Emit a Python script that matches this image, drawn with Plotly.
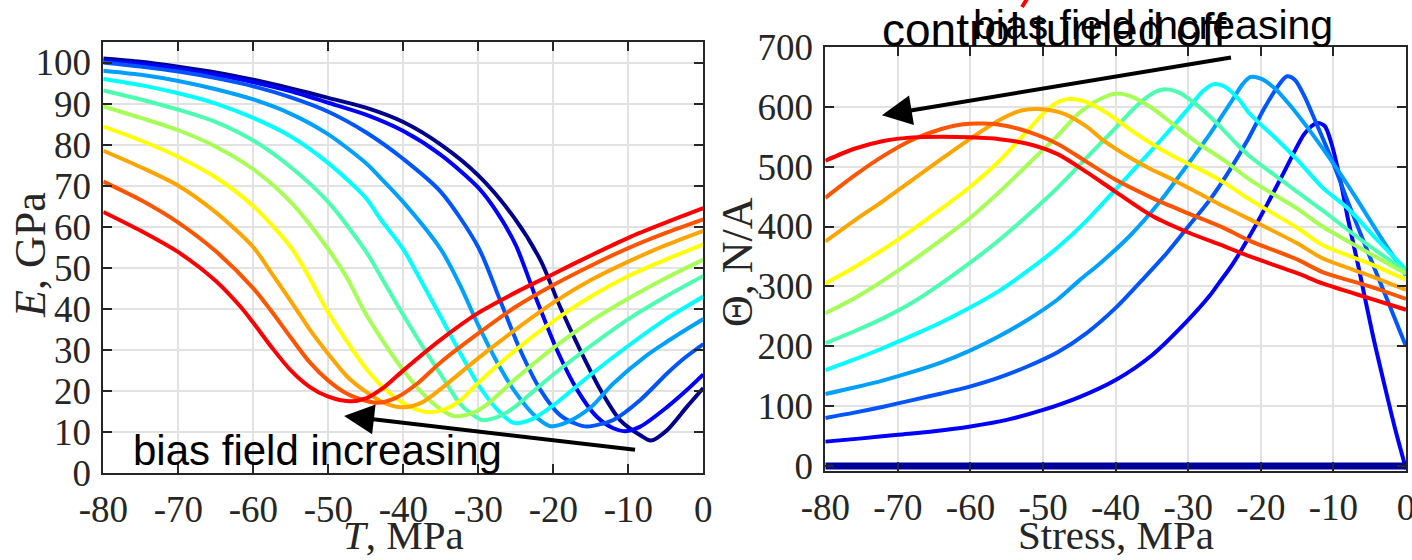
import plotly.graph_objects as go

# ---------------- Left panel: E (GPa) vs T (MPa) ----------------
T_red = [-80, -75, -70, -65, -61.7, -60, -57.5, -55, -52.5, -50, -47.2, -45, -42.5, -40, -35, -30, -25, -20, -15, -10, -5, 0]
E_red = [63.6, 59, 53.8, 46.8, 40.5, 36.6, 30.5, 25, 21, 18.6, 17.5, 18.2, 21, 25, 32.5, 39, 44, 48.5, 53, 57.3, 61, 64.5]

T_or = [-80, -75, -70, -65, -60, -57.7, -55, -52.5, -50, -47.5, -45, -43.5, -41, -38, -35, -30, -25, -20, -15, -10, -5, 0]
E_or = [71, 66.5, 61, 54, 45, 39.7, 33, 27, 22.5, 19.3, 17.6, 17.1, 18.3, 22, 27, 34, 40.5, 45.8, 50.5, 54.8, 58.5, 61.8]

T_o = [-80, -75, -70, -65, -60, -57.5, -54.2, -52.5, -50, -47.5, -45, -42.5, -40, -37.5, -35, -30, -25, -20, -15, -10, -5, 0]
E_o = [78.5, 74.5, 70, 63.5, 55, 48.5, 39.7, 35, 29, 23.5, 19.8, 17, 16, 17.2, 20.5, 28, 35, 41.5, 47, 51.5, 55.5, 59]

T_y = [-80, -75, -70, -65, -60, -55, -52.5, -50.2, -47.5, -45, -42.5, -40, -38, -36.5, -34.5, -32.5, -30, -25, -20, -15, -10, -5, 0]
E_y = [84.4, 81, 77, 72, 65, 55, 47.5, 39.7, 32, 25.5, 20.5, 17, 15.3, 14.8, 15.5, 17.5, 22, 30, 37, 43, 48, 52, 55.7]

T_yg = [-80, -75, -70, -65, -60, -55, -50, -47.5, -45.3, -42.5, -40, -37.5, -35, -33.3, -31, -29, -25, -20, -15, -10, -5, 0]
E_yg = [89.3, 86.5, 83.5, 79.5, 74, 66, 54.5, 47.5, 39.7, 31.5, 25, 19.5, 15.5, 13.9, 14.5, 16.5, 23, 30.5, 37, 42.5, 47.5, 52]

T_gc = [-80, -75, -70, -65, -60, -55, -50, -45, -43.1, -40.4, -37.5, -35, -32.5, -31, -29.5, -28, -26, -25, -20, -15, -10, -5, 0]
E_gc = [93.2, 91, 88.5, 85.5, 81, 74.5, 66, 54, 48.2, 39.7, 31, 24, 17, 14.5, 12.9, 13.3, 15, 16.3, 24, 31, 37.5, 43, 48]

T_c = [-80, -75, -70, -65, -60, -55, -50, -45, -43.1, -40, -37.7, -35, -32.5, -30, -27.5, -25.3, -23, -20, -15, -10, -5, 0]
E_c = [96, 94.5, 92.5, 90, 86.5, 82, 75.5, 67, 62, 54.5, 47, 38, 29.5, 21.5, 15.5, 12.2, 13, 16.5, 24, 31, 37.5, 43]

T_lb = [-80, -75, -70, -65, -60, -55, -50, -45, -43.1, -40, -35, -32.5, -30, -27.5, -25, -22.5, -20.4, -18, -15, -12, -7.5, -5, -2.5, 0]
E_lb = [98, 97, 95.5, 93.5, 91, 87.5, 82.5, 75.5, 72, 66, 54.5, 46, 36, 27, 19.5, 14, 11.4, 12.5, 16, 21.8, 28.7, 31.8, 34.7, 37.5]

T_mb = [-80, -75, -70, -65, -60, -55, -50, -45, -40, -35, -30, -27.1, -24.4, -21.7, -19.1, -17, -15.5, -13.5, -12, -8.4, -4.8, -2.5, 0]
E_mb = [100, 99, 97.8, 96.2, 94.2, 91.5, 88, 83, 76.5, 68.5, 55, 42.1, 29.9, 20.2, 14.1, 12, 11.3, 12, 12.9, 17.8, 24.3, 28, 31.4]

T_b = [-80, -75, -70, -65, -60, -55, -50, -45, -40, -35, -30, -27.5, -25, -22.2, -19.5, -16.8, -14.2, -12, -10.4, -8.4, -4.8, -2.2, 0]
E_b = [100.5, 99.7, 98.5, 97, 95.2, 93, 90.2, 87.3, 83.3, 77.5, 69.5, 63.5, 55.5, 42.1, 29.9, 20.2, 13.7, 10.9, 10.2, 11.3, 16.1, 20.2, 24]

T_dn = [-80, -75, -70, -65, -60, -55, -50, -45, -40, -35, -30, -25.3, -21.7, -19.1, -16.4, -13.7, -11.1, -8.4, -7, -4.8, -2.2, 0]
E_dn = [101, 100.2, 99, 97.6, 95.8, 93.7, 91.4, 89, 85.5, 80, 72.5, 62.4, 51.8, 40.5, 29.9, 20.2, 12.9, 9.2, 7.9, 10.5, 16.1, 20.7]

# ---------------- Right panel: Theta (N/A) vs Stress (MPa) ----------------
S_red = [-80, -76, -72, -68, -64, -60, -56, -52, -48, -44, -40, -35, -30, -25, -21.5, -15, -11.5, -5, 0]
Th_red = [510, 530, 543, 549, 550, 549, 546, 538, 521, 491, 458, 418, 390, 367, 350, 322, 305, 280, 261]

S_or = [-80, -76, -72, -68, -64, -61, -58, -55, -52, -48, -44, -40, -35, -30, -25, -21.5, -15, -11.5, -5, 0]
Th_or = [448, 485, 518, 545, 563, 571, 572, 568, 558, 538, 508, 478, 448, 422, 397, 376, 345, 324, 300, 279]

S_o = [-80, -76, -72, -68, -64, -60, -56, -53, -50, -47, -44, -41.7, -38, -35, -32.9, -28, -25, -21.5, -15, -11.5, -5, 0]
Th_o = [375, 410, 443, 478, 513, 547, 578, 594, 596, 588, 567, 544, 515, 495, 483, 452, 433, 412, 372, 347, 318, 294]

S_y = [-80, -76, -72, -68, -64, -60, -56, -52, -49, -46.5, -44, -41, -38, -35, -32, -28, -25, -21.5, -15, -11.5, -5, 0]
Th_y = [305, 332, 362, 395, 430, 467, 510, 562, 600, 613, 608, 588, 562, 538, 517, 493, 473, 445, 398, 369, 338, 311]

S_yg = [-80, -76, -72, -68, -64, -60, -56, -52, -48, -45, -42, -40, -38, -35, -32, -29, -25, -21.5, -15, -11.5, -5, 0]
Th_yg = [255, 280, 310, 343, 378, 415, 458, 505, 552, 590, 614, 622, 618, 598, 570, 542, 510, 478, 430, 400, 355, 321]

S_gc = [-80, -76, -72, -68, -64, -60, -56, -52, -48, -44, -40, -37, -35, -33.5, -31.5, -29, -26, -23.5, -21.5, -18, -15, -11.5, -7, -3, 0]
Th_gc = [205, 225, 247, 273, 305, 340, 378, 420, 465, 515, 565, 603, 622, 629, 625, 605, 572, 540, 517, 485, 458, 427, 385, 350, 325]

S_c = [-80, -76, -72, -68, -64, -60, -56, -52, -48, -44, -40, -36.3, -33, -30, -28, -26.5, -25, -23, -21.5, -18, -15, -11.5, -8, -4, 0]
Th_c = [160, 178, 197, 218, 240, 265, 293, 327, 365, 410, 462, 511, 555, 597, 626, 638, 634, 612, 588, 548, 512, 465, 430, 378, 328]

S_lb = [-80, -76, -72, -68, -64, -60, -56, -52, -48, -45, -42, -38, -34, -30.3, -27, -24, -22.5, -21.4, -20, -18, -16, -13, -10, -7, -4, 0]
Th_lb = [120, 131, 143, 157, 173, 193, 217, 245, 278, 310, 340, 385, 440, 500, 555, 610, 638, 650, 647, 630, 603, 556, 505, 450, 392, 318]

S_mb = [-80, -76, -72, -68, -64, -60, -56, -52, -48, -44, -40, -36.4, -33, -30, -27, -24.5, -21.8, -19.5, -17.5, -16.4, -15.3, -14, -12.2, -10, -8, -6, -4, -2, 0]
Th_mb = [80, 89, 99, 110, 121, 133, 148, 167, 190, 222, 264, 310, 355, 400, 445, 490, 545, 598, 637, 651, 645, 618, 568, 505, 441, 380, 320, 260, 200]

S_b = [-80, -75, -70, -65, -60, -55, -50, -45, -40, -35, -30, -27, -25.8, -24, -21.5, -19, -16.8, -14.1, -13, -12.2, -11.2, -10.3, -9, -8, -6.5, -4.6, -3, -1.5, 0]
Th_b = [40.6, 46, 52, 58, 66, 77, 93.5, 115, 143.6, 185, 244, 285, 305, 335, 385, 440, 491, 553, 568, 573, 568, 540, 475, 413, 330, 220, 137, 62, -5]

S_dn = [-80, 0]
Th_dn = [0, 0]

# jet-like colours, from highest bias (red) to lowest (dark blue)
C_RED, C_OR, C_O, C_Y, C_YG, C_GC, C_C, C_LB, C_MB, C_B, C_DN = (
    "#ff0000", "#ff5500", "#ffa500", "#ffff00", "#a5ff55", "#4cffb0",
    "#00ffff", "#00a0ff", "#0055ff", "#0000ff", "#00008f")

tick_vals_x = [-80, -70, -60, -50, -40, -30, -20, -10, 0]
tick_text_x = ["-80", "-70", "-60", "-50", "-40", "-30", "-20", "-10", "0"]
tick_vals_e = [0, 10, 20, 30, 40, 50, 60, 70, 80, 90, 100]
tick_text_e = ["0", "10", "20", "30", "40", "50", "60", "70", "80", "90", "100"]
tick_vals_th = [0, 100, 200, 300, 400, 500, 600, 700]
tick_text_th = ["0", "100", "200", "300", "400", "500", "600", "700"]

W, H = 1412, 560
def px(x):
    return x / W
def py(y):
    return 1 - y / H

fig = go.Figure()

left = [(T_dn, E_dn, C_DN), (T_b, E_b, C_B), (T_mb, E_mb, C_MB), (T_lb, E_lb, C_LB),
        (T_c, E_c, C_C), (T_gc, E_gc, C_GC), (T_yg, E_yg, C_YG), (T_y, E_y, C_Y),
        (T_o, E_o, C_O), (T_or, E_or, C_OR), (T_red, E_red, C_RED)]
for xs, ys, col in left:
    fig.add_trace(go.Scatter(x=xs, y=ys, mode="lines", xaxis="x", yaxis="y",
                             line=dict(color=col, width=4, shape="spline", smoothing=0.8),
                             showlegend=False, hoverinfo="skip"))

right = [(S_b, Th_b, C_B), (S_mb, Th_mb, C_MB), (S_lb, Th_lb, C_LB),
         (S_c, Th_c, C_C), (S_gc, Th_gc, C_GC), (S_yg, Th_yg, C_YG), (S_y, Th_y, C_Y),
         (S_o, Th_o, C_O), (S_or, Th_or, C_OR), (S_red, Th_red, C_RED)]
for xs, ys, col in right:
    fig.add_trace(go.Scatter(x=xs, y=ys, mode="lines", xaxis="x2", yaxis="y2",
                             line=dict(color=col, width=4, shape="spline", smoothing=0.8),
                             showlegend=False, hoverinfo="skip"))
fig.add_trace(go.Scatter(x=S_dn, y=Th_dn, mode="lines", xaxis="x2", yaxis="y2",
                         line=dict(color="#00009a", width=7), showlegend=False, hoverinfo="skip"))

axcol = "#262626"
tickfont = dict(family="Liberation Serif", size=37, color=axcol)
common = dict(showline=True, linecolor=axcol, linewidth=2, mirror="all",
              ticks="inside", ticklen=9, tickwidth=1.5, tickcolor=axcol,
              showgrid=True, gridcolor="#e2e2e2", gridwidth=1.5, zeroline=False,
              tickfont=tickfont, automargin=False, ticklabeloverflow="allow")

fig.update_layout(
    width=W, height=H, margin=dict(l=0, r=0, t=0, b=0, pad=0, autoexpand=False),
    paper_bgcolor="white", plot_bgcolor="white",
    xaxis=dict(domain=[px(103.3), px(703.3)], range=[-80, 0], tickvals=tick_vals_x,
               ticktext=tick_text_x, anchor="y", ticklabelstandoff=3, **common),
    yaxis=dict(domain=[py(473), py(42)], range=[0, 105], tickvals=tick_vals_e,
               ticktext=tick_text_e, anchor="x", ticklabelstandoff=3, **common),
    xaxis2=dict(domain=[px(825.3), px(1406)], range=[-80, 0], tickvals=tick_vals_x,
                ticktext=tick_text_x, anchor="y2", ticklabelstandoff=3, **common),
    yaxis2=dict(domain=[py(471), py(47)], range=[-8.5, 700], tickvals=tick_vals_th,
                ticktext=tick_text_th, anchor="x2", ticklabelstandoff=3, **common),
)

serif = "Liberation Serif"
sans = "Liberation Sans"
ann = []
# axis titles
ann.append(dict(text="<i>T</i>, MPa", x=px(403), y=0, xref="paper", yref="paper",
                showarrow=False, xanchor="center", yanchor="bottom",
                font=dict(family=serif, size=41, color=axcol)))
ann.append(dict(text="Stress, MPa", x=px(1115.6), y=0, xref="paper", yref="paper",
                showarrow=False, xanchor="center", yanchor="bottom",
                font=dict(family=serif, size=41, color=axcol)))
ann.append(dict(text="<i>E</i>, GPa", x=px(31), y=py(255), xref="paper", yref="paper",
                showarrow=False, xanchor="center", yanchor="middle", textangle=-90,
                font=dict(family=serif, size=44, color=axcol)))
ann.append(dict(text="Θ, N/A", x=px(737), y=py(262), xref="paper", yref="paper",
                showarrow=False, xanchor="center", yanchor="middle", textangle=-90,
                font=dict(family=serif, size=44, color=axcol)))
# labels
ann.append(dict(text="bias field increasing", x=px(317), y=py(450), xref="paper", yref="paper",
                showarrow=False, xanchor="center", yanchor="middle",
                font=dict(family=sans, size=42, color="black")))
ann.append(dict(text="bias field increasing", x=px(1153), y=py(25), xref="paper", yref="paper",
                showarrow=False, xanchor="center", yanchor="middle",
                font=dict(family=sans, size=41, color="black")))
ann.append(dict(text="control turned off", x=px(1054), y=py(30), xref="paper", yref="paper",
                showarrow=False, xanchor="center", yanchor="middle",
                font=dict(family=sans, size=46, color="black")))
# arrows
ann.append(dict(text="", x=-47.9, y=13.9, ax=-8.9, ay=5.6, xref="x", yref="y", axref="x", ayref="y",
                showarrow=True, arrowhead=2, arrowsize=1.5, arrowwidth=4, arrowcolor="black", standoff=0))
ann.append(dict(text="", x=-72.2, y=586, ax=-23.9, ay=683, xref="x2", yref="y2", axref="x2", ayref="y2",
                showarrow=True, arrowhead=2, arrowsize=1.5, arrowwidth=4, arrowcolor="black", standoff=0))
fig.update_layout(annotations=ann)

# small red mark at the top edge
fig.add_shape(type="line", xref="paper", yref="paper", x0=px(1022), y0=py(7), x1=px(1027), y1=py(-1),
              line=dict(color="red", width=4))

fig.write_html("out.html")
